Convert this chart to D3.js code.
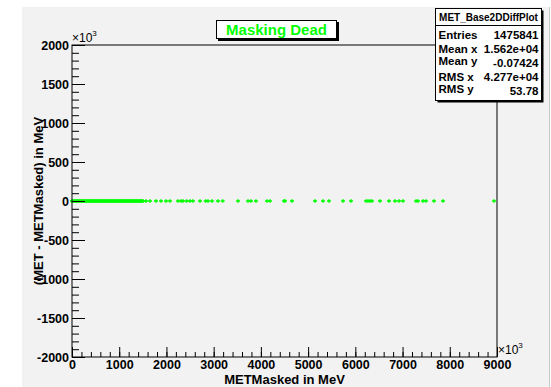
<!DOCTYPE html>
<html>
<head>
<meta charset="utf-8">
<script src="https://cdn.jsdelivr.net/npm/d3@7"></script>
<style>
  body { margin: 0; background: #ffffff; }
  svg { display: block; font-family: "Liberation Sans", Arial, sans-serif; font-weight: bold; }
</style>
</head>
<body>
<svg id="chart" width="551" height="387"></svg>
<script>
// values in units of 10^3 MeV
const metMasked = [
    0, 12, 30, 45, 62, 80, 95, 110, 128, 145,
    160, 178, 195, 210, 230, 248, 262, 280, 298, 315,
    330, 350, 365, 382, 400, 418, 432, 450, 468, 485,
    500, 520, 535, 552, 570, 588, 602, 620, 638, 655,
    670, 690, 705, 722, 740, 758, 772, 790, 808, 825,
    840, 860, 875, 892, 910, 928, 942, 960, 978, 995,
    1010, 1030, 1045, 1062, 1080, 1098, 1112, 1130, 1148, 1165,
    1180, 1200, 1215, 1232, 1250, 1268, 1282, 1300, 1318, 1335,
    1350, 1370, 1385, 1402, 1420, 1438, 1452, 1470, 1488, 1505,
    1567, 1652, 1779, 1885, 1991, 2075, 2245, 2308, 2351, 2429,
    2499, 2562, 2711, 2831, 2880, 2965, 3092, 3191, 3515, 3727,
    3791, 3896, 4129, 4193, 4489, 4511, 4659, 5146, 5315, 5442,
    5739, 5908, 6226, 6268, 6311, 6353, 6522, 6713, 6840, 6925,
    7009, 7285, 7327, 7433, 7496, 7666, 7856, 8936
]
const metDiff = [
    0, 0, 0, 0, 0, 0, 0, 0, 0, 0,
    0, 0, 0, 0, 0, 0, 0, 0, 0, 0,
    0, 0, 0, 0, 0, 0, 0, 0, 0, 0,
    0, 0, 0, 0, 0, 0, 0, 0, 0, 0,
    0, 0, 0, 0, 0, 0, 0, 0, 0, 0,
    0, 0, 0, 0, 0, 0, 0, 0, 0, 0,
    0, 0, 0, 0, 0, 0, 0, 0, 0, 0,
    0, 0, 0, 0, 0, 0, 0, 0, 0, 0,
    0, 0, 0, 0, 0, 0, 0, 0, 0, 0,
    0, 0, 0, 0, 0, 0, 0, 0, 0, 0,
    0, 0, 0, 0, 0, 0, 0, 0, 0, 0,
    0, 0, 0, 0, 0, 0, 0, 0, 0, 0,
    0, 0, 0, 0, 0, 0, 0, 0, 0, 0,
    0, 0, 0, 0, 0, 0, 0, 0
]
const xTicks = [0, 1000, 2000, 3000, 4000, 5000, 6000, 7000, 8000, 9000]
const yTicks = [-2000, -1500, -1000, -500, 0, 500, 1000, 1500, 2000]
const statLabels = ['Entries', 'Mean x', 'Mean y', 'RMS x', 'RMS y']
const statValues = ['1475841', '1.562e+04', '-0.07424', '4.277e+04', '53.78']

const svg = d3.select('#chart')

const frame = { left: 72, right: 497, top: 45, bottom: 357 }

const x = d3.scaleLinear().domain([0, 9000]).range([frame.left, frame.right])
const y = d3.scaleLinear().domain([-2000, 2000]).range([frame.bottom, frame.top])

/*pad*/
svg.append('rect')
    .attr('x', 22).attr('y', 7)
    .attr('width', 527).attr('height', 380)
    .attr('fill', '#f2f2f2')
svg.append('line')
    .attr('x1', 549.5).attr('x2', 549.5).attr('y1', 7).attr('y2', 387)
    .attr('stroke', '#c8c8c8')

/*points*/
const points = metMasked.map((v, i) => ({ x: v, y: metDiff[i] }))
svg.append('g')
    .selectAll('path')
    .data(points)
    .enter()
    .append('path')
    .attr('d', (d) => `M${x(d.x) - 2},${y(d.y)}H${x(d.x) + 2}M${x(d.x)},${y(d.y) - 1.8}V${y(d.y) + 1.8}`)
    .attr('stroke', '#00ff00')
    .attr('stroke-width', 1.5)
    .attr('fill', 'none')

/*frame*/
svg.append('rect')
    .attr('x', frame.left).attr('y', frame.top)
    .attr('width', frame.right - frame.left)
    .attr('height', frame.bottom - frame.top)
    .attr('fill', 'none')
    .attr('stroke', '#000')

/*x axis*/
svg.append('g')
    .attr('transform', `translate(0, ${frame.bottom})`)
    .call(d3.axisBottom(x).tickValues(d3.range(0, 9001, 200)).tickSize(-5).tickFormat(''))
    .call((g) => g.select('.domain').remove())

svg.append('g')
    .attr('class', 'x axis')
    .attr('transform', `translate(0, ${frame.bottom})`)
    .call(d3.axisBottom(x).tickValues(xTicks).tickSize(-10).tickPadding(3).tickFormat((d) => String(d)))
    .call((g) => g.select('.domain').remove())
    .call((g) => g.selectAll('text').attr('font-size', 12.5).attr('fill', '#000').attr('font-family', null))

/*y axis*/
svg.append('g')
    .attr('transform', `translate(${frame.left}, 0)`)
    .call(d3.axisLeft(y).tickValues(d3.range(-2000, 2001, 100)).tickSize(-7).tickFormat(''))
    .call((g) => g.select('.domain').remove())

svg.append('g')
    .attr('class', 'y axis')
    .attr('transform', `translate(${frame.left}, 0)`)
    .call(d3.axisLeft(y).tickValues(yTicks).tickSize(-13).tickPadding(3).tickFormat((d) => String(d)))
    .call((g) => g.select('.domain').remove())
    .call((g) => g.selectAll('text').attr('font-size', 12.5).attr('fill', '#000').attr('font-family', null))

svg.selectAll('.tick line').attr('stroke', '#000')

/*x10^3*/
function expo(px, py) {
    const t = svg.append('text').attr('x', px).attr('y', py).attr('font-size', 12).attr('font-weight', 'normal')
    t.append('tspan').text('×10')
    t.append('tspan').attr('dy', -6).attr('font-size', 8).text('3')
}
expo(frame.left, 42)
expo(frame.right + 1, 354)

/*axis titles*/
svg.append('text')
    .attr('x', (frame.left + frame.right) / 2)
    .attr('y', 384)
    .attr('text-anchor', 'middle')
    .attr('font-size', 13)
    .text('METMasked in MeV')

svg.append('text')
    .attr('transform', `translate(43, ${(frame.top + frame.bottom) / 2}) rotate(-90)`)
    .attr('text-anchor', 'middle')
    .attr('font-size', 13)
    .text('(MET - METMasked) in MeV')

/*title box*/
svg.append('rect')
    .attr('x', 218).attr('y', 22).attr('width', 121).attr('height', 19)
    .attr('fill', '#000')
svg.append('rect')
    .attr('x', 216.5).attr('y', 20.5).attr('width', 120).attr('height', 18)
    .attr('fill', '#fff').attr('stroke', '#000')
svg.append('text')
    .attr('x', 276.5).attr('y', 35)
    .attr('text-anchor', 'middle')
    .attr('font-size', 15)
    .attr('fill', '#00ff00')
    .text('Masking Dead')

/*stats box*/
const sb = { x: 435.5, y: 8.5, w: 106, h: 92 }
svg.append('rect')
    .attr('x', sb.x + 2).attr('y', sb.y + 2).attr('width', sb.w).attr('height', sb.h)
    .attr('fill', '#000')
svg.append('rect')
    .attr('x', sb.x).attr('y', sb.y).attr('width', sb.w).attr('height', sb.h)
    .attr('fill', '#fff').attr('stroke', '#000')
svg.append('line')
    .attr('x1', sb.x).attr('x2', sb.x + sb.w).attr('y1', 25.5).attr('y2', 25.5)
    .attr('stroke', '#000')
svg.append('text')
    .attr('x', sb.x + sb.w / 2).attr('y', 21)
    .attr('text-anchor', 'middle')
    .attr('font-size', 10)
    .text('MET_Base2DDiffPlot')

const rowY = [39, 53, 65, 81, 93]
const rows = svg.append('g').selectAll('g').data(statLabels).enter().append('g')
rows.append('text')
    .attr('x', sb.x + 3)
    .attr('y', (d, i) => rowY[i])
    .attr('font-size', 11.5)
    .text((d) => d)
rows.append('text')
    .attr('x', sb.x + sb.w - 3)
    .attr('y', (d, i) => rowY[i] + (i == 2 || i == 4 ? 2 : 0))
    .attr('text-anchor', 'end')
    .attr('font-size', 11.5)
    .text((d, i) => statValues[i])
</script>
</body>
</html>
